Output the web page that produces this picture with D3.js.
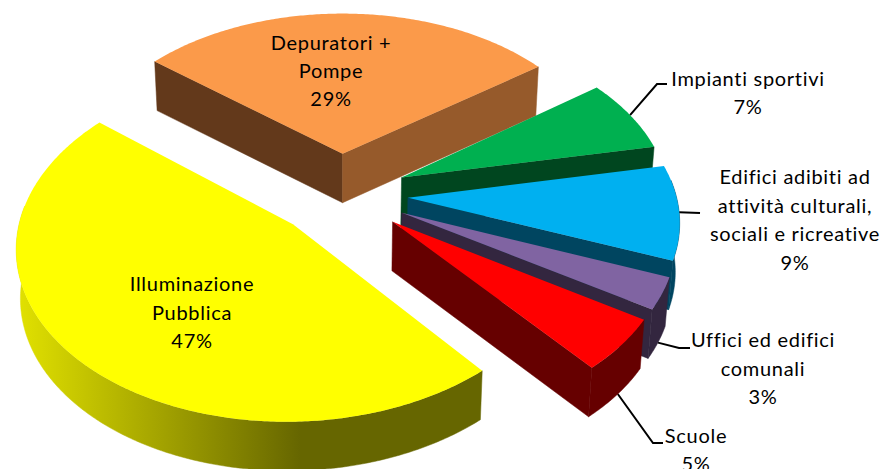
<!DOCTYPE html>
<html>
<head>
<meta charset="utf-8">
<style>html,body{margin:0;padding:0;background:#fff;overflow:hidden}svg{display:block}text{font-family:Lato,"Open Sans",sans-serif;font-size:20px;letter-spacing:.7px;fill:#000}</style>
<script src="https://cdn.jsdelivr.net/npm/d3@7/dist/d3.min.js"></script>
</head>
<body>
<svg id="c" width="884" height="469"></svg>
<script>
// --- data ---
const categories = ["Illuminazione Pubblica","Depuratori + Pompe","Impianti sportivi","Edifici adibiti ad attività culturali, sociali e ricreative","Uffici ed edifici comunali","Scuole"];
const values = [47,29,7,9,3,5];
const labelLines = [["Illuminazione","Pubblica"],["Depuratori +","Pompe"],["Impianti sportivi"],["Edifici adibiti ad","attività culturali,","sociali e ricreative"],["Uffici ed edifici","comunali"],["Scuole"]];
const topColors  = ["#FFFF00","#FB9A4A","#00B050","#00B0F0","#8064A2","#FF0000"];
const wallColors = ["#666600","#965A2B","#00461F","#004560","#33263F","#660000"];
const startWallColors = ["#666600","#63391B","#00461F","#004560","#33263F","#660000"];
const labelX = [192,331,748,795,763,696];
const labelY = [291,50,86,184,347,443];
const lineSteps = [28.5,28,28,28.7,28.5,27.5];
const elbows = [null,null,[[657,84],[667,84]],[[700,213]],[[679,348],[690,348]],[[653,443],[663,443]]];

// --- projection ---
const G = {x:341,y:194}, R = 268, C = 166, k = 0.12, explode = 0.25, depth = 49, bottomScale = 0.987;
const rad = d3.scaleLinear().domain([0,360]).range([0,2*Math.PI]);
function project(u,v,z){
  const w = 1+k*v;
  const x = R*u/w, y = -C*v/w;
  return z ? [G.x+x*bottomScale, G.y+y+depth] : [G.x+x, G.y+y];
}
const pie = d3.pie().sort(null).value(d=>d).startAngle(rad(140)).endAngle(rad(500));
const arcs = pie(values);
const svg = d3.select("#c");
const path = d3.line();
const defs = svg.append("defs");
const grad = defs.append("linearGradient").attr("id","yw").attr("gradientUnits","userSpaceOnUse")
  .attr("x1",16).attr("x2",300).attr("y1",0).attr("y2",0);
grad.append("stop").attr("offset",0).attr("stop-color","#E2E200");
grad.append("stop").attr("offset",1).attr("stop-color","#666600");

function apex(a){const m=(a.startAngle+a.endAngle)/2;return [explode*Math.sin(m),explode*Math.cos(m)];}
function rimPts(a,from,to,z){
  const c=apex(a),n=Math.max(2,Math.ceil((to-from)/0.01)),o=[];
  for(let i=0;i<=n;i++){const t=from+(to-from)*i/n;o.push(project(c[0]+Math.sin(t),c[1]+Math.cos(t),z));}
  return o;
}
// leaders, below the slices
arcs.forEach((a,i)=>{
  if(!elbows[i])return;
  const m=(a.startAngle+a.endAngle)/2,c=apex(a);
  const lower=Math.cos(m)<-0.3;
  const s=project(c[0]+Math.sin(m),c[1]+Math.cos(m),lower);
  svg.append("path").attr("d",path([s,...elbows[i]])).attr("fill","none").attr("stroke","#000").attr("stroke-width",2);
});
// slices, back to front
const order=[1,2,3,4,5,0];
order.forEach(i=>{
  const a=arcs[i],c=apex(a),g=svg.append("g");
  const turn=a.startAngle>=2*Math.PI?2*Math.PI:0;
  const s0=a.startAngle-turn,s1=a.endAngle-turn;
  const p0=project(c[0],c[1],false),p1=project(c[0],c[1],true);
  const wall=(t,col)=>{
    const e=[c[0]+Math.sin(t),c[1]+Math.cos(t)];
    g.append("path").attr("d",path([p0,project(e[0],e[1],false),project(e[0],e[1],true),p1])+"Z").attr("fill",col).attr("stroke",col).attr("stroke-width",0.5);
  };
  // rim wall, front half only
  const lo=Math.max(s0,rad(84)),hi=Math.min(s1,rad(276));
  if(hi>lo){
    const poly=rimPts(a,lo,hi,false).concat(rimPts(a,lo,hi,true).reverse());
    const col=i===0?"url(#yw)":wallColors[i];
    g.append("path").attr("d",path(poly)+"Z").attr("fill",col).attr("stroke",col).attr("stroke-width",0.5);
  }
  if(Math.sin(s0)<0)wall(s0,startWallColors[i]);
  if(Math.sin(s1)>0)wall(s1,wallColors[i]);
  const top=[p0,...rimPts(a,s0,s1,false)];
  g.append("path").attr("d",path(top)+"Z").attr("fill",topColors[i]);
});
// labels
categories.forEach((c,i)=>{
  const lines=[...labelLines[i],values[i]+"%"];
  lines.forEach((l,j)=>{
    svg.append("text").attr("x",labelX[i]).attr("y",labelY[i]+j*lineSteps[i]).attr("text-anchor","middle").text(l);
  });
});
</script>
</body>
</html>
